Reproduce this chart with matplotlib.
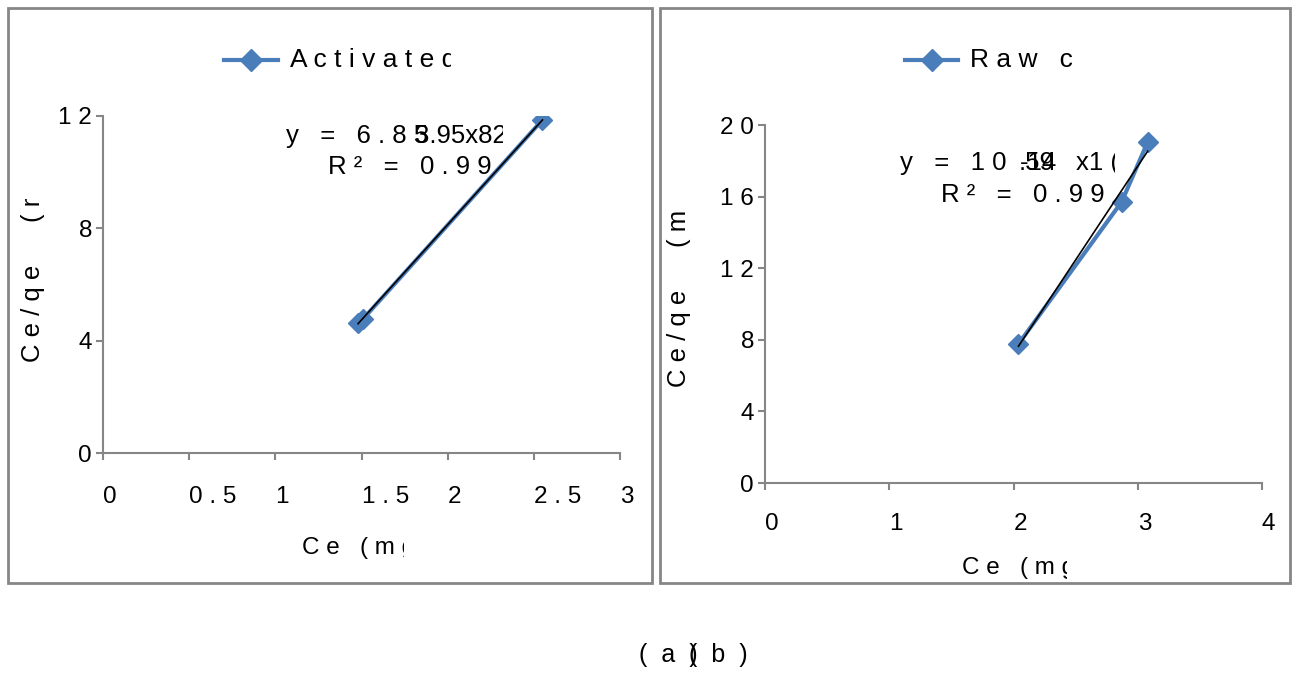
import numpy as np
import matplotlib
matplotlib.use("Agg")
import matplotlib.pyplot as plt
from matplotlib.lines import Line2D
from matplotlib.patches import Rectangle
from matplotlib.transforms import Bbox, TransformedBbox

# Langmuir plots, activated vs raw carbon
act_ce = [1.48, 1.51, 2.55]
act_ceqe = [4.63, 4.78, 11.86]
raw_ce = [2.04, 2.87, 3.08]
raw_ceqe = [7.77, 15.70, 19.05]

act_xticks = [0, 0.5, 1, 1.5, 2, 2.5, 3]
act_yticks = [0, 4, 8, 12]
raw_xticks = [0, 1, 2, 3, 4]
raw_yticks = [0, 4, 8, 12, 16, 20]

act_label = "Activated carbon"
raw_label = "Raw carbon"
x_title = "Ce (mg/l)"
y_title = "Ce/qe (mg/g)"

BLUE = "#4a7ebb"
GREY = "#868686"
W, H = 1294, 673
FS = 17.5

plt.rcParams["font.family"] = ["Liberation Sans", "DejaVu Sans"]


def spaced(s):
    # the original export draws every glyph letter-spaced
    return " ".join(s)


def tick_text(v):
    return spaced(f"{v:g}")


fig = plt.figure(figsize=(W / 100, H / 100), dpi=100)


def px_text(x, y, s, clip_x=None, clip_top=None, **kw):
    kw.setdefault("fontsize", FS)
    t = fig.text(x / W, 1 - y / H, s, **kw)
    if clip_x is not None or clip_top is not None:
        x1 = (clip_x if clip_x is not None else W) / W
        y1 = 1 - (clip_top if clip_top is not None else 0) / H
        t.set_clip_box(TransformedBbox(Bbox.from_extents(0, 0, x1, y1), fig.transFigure))
        t.set_clip_on(True)
    return t


def panel(rect, xs, ys, xticks, yticks, xpad):
    ax = fig.add_axes(rect)
    ax.plot(xs, ys, color=BLUE, lw=3, marker="D", markersize=10, zorder=3)
    k, b = np.polyfit(xs, ys, 1)
    fx = np.array([min(xs), max(xs)])
    ax.plot(fx, k * fx + b, color="black", lw=1.2, zorder=4)
    ax.set_xlim(xticks[0], xticks[-1])
    ax.set_ylim(yticks[0], yticks[-1])
    ax.set_xticks(xticks, [tick_text(v) for v in xticks])
    ax.set_yticks(yticks, [tick_text(v) for v in yticks])
    for lab in ax.get_xticklabels():
        lab.set_ha("left")
    for side in ("top", "right"):
        ax.spines[side].set_visible(False)
    for side in ("left", "bottom"):
        ax.spines[side].set_color(GREY)
        ax.spines[side].set_linewidth(1.5)
    ax.tick_params(axis="both", direction="out", length=5, width=1.5,
                   color=GREY, labelsize=FS)
    ax.tick_params(axis="x", pad=xpad)
    ax.tick_params(axis="y", pad=3)
    ax.patch.set_visible(False)
    return ax


# panel frames
for x0, x1 in ((8, 652), (660, 1290)):
    fig.add_artist(Rectangle((x0 / W, 1 - 583 / H), (x1 - x0) / W, 575 / H,
                             transform=fig.transFigure, fill=False,
                             edgecolor=GREY, lw=2))

ax1 = panel([103 / W, 1 - 453 / H, 517 / W, 337 / H],
            act_ce, act_ceqe, act_xticks, act_yticks, 19)
ax2 = panel([765 / W, 1 - 483 / H, 497 / W, 358 / H],
            raw_ce, raw_ceqe, raw_xticks, raw_yticks, 16.5)

# legends
for lx0, lx1, tx, label, clip in ((224, 278, 290, act_label, 451),
                                  (905, 958, 970, raw_label, 1077)):
    fig.add_artist(Line2D([lx0 / W, lx1 / W], [1 - 60 / H] * 2,
                          transform=fig.transFigure, color=BLUE, lw=3))
    fig.add_artist(Line2D([(lx0 + lx1) / 2 / W], [1 - 60 / H],
                          transform=fig.transFigure, color=BLUE,
                          marker="D", markersize=11, lw=0))
    px_text(tx, 60, spaced(label), clip_x=clip, va="center", fontsize=19)

# axis titles (clipped like the source)
y_title_sp = spaced("Ce/qe") + " " * 6 + spaced("(mg/g)")
px_text(302, 548, spaced(x_title), clip_x=404, va="center")
px_text(962, 568, spaced(x_title), clip_x=1067, va="center")
px_text(33, 362, y_title_sp, clip_top=199, rotation=90,
        ha="center", va="bottom", fontsize=18.5)
px_text(679, 387, y_title_sp, clip_top=212, rotation=90,
        ha="center", va="bottom", fontsize=18.5)

# overlapping trendline labels
EQ = 18.5
px_text(286, 136, spaced("y = 6.85"), clip_x=503, va="center", fontsize=EQ)
px_text(415, 136, "3.95x82", clip_x=503, va="center", fontsize=EQ)
px_text(328, 167, spaced("R² = 0.9985"), clip_x=498, va="center", fontsize=EQ)

px_text(900, 163, spaced("y = 10"), clip_x=1115, va="center", fontsize=EQ)
px_text(1019, 163, ".59", clip_x=1115, va="center", fontsize=EQ)
px_text(1020, 163, "-14", clip_x=1115, va="center", fontsize=EQ)
px_text(1076, 163, "x1 (", clip_x=1115, va="center", fontsize=EQ)
px_text(941, 195, spaced("R² = 0.9932"), clip_x=1112, va="center", fontsize=EQ)

# sub-figure captions (overlap like the source)
px_text(639, 655, "  ".join("(a)"), ha="left", va="center", fontsize=18)
px_text(689, 655, "  ".join("(b)"), ha="left", va="center", fontsize=18)

fig.savefig("out.png", dpi=100)
